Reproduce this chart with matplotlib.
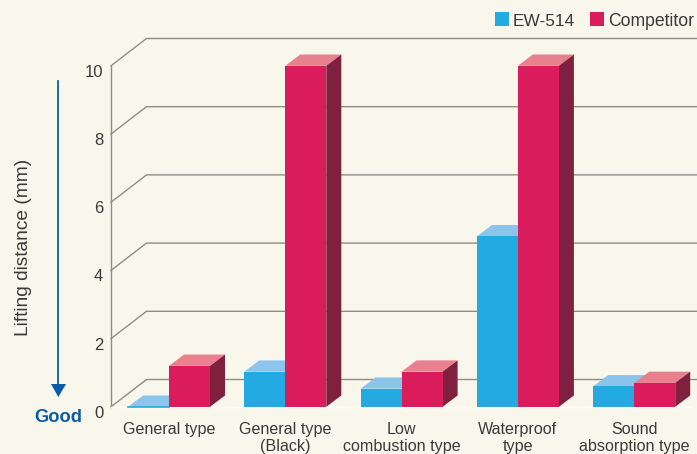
import matplotlib
matplotlib.use("Agg")
import matplotlib.pyplot as plt
from matplotlib.patches import Polygon, Rectangle
from matplotlib.transforms import ScaledTranslation

plt.rcParams["font.family"] = ["Liberation Sans", "DejaVu Sans"]

# ======================================
# DATA
# ======================================
categories = ["General type", "General type\n(Black)", "Low\ncombustion type",
              "Waterproof\ntype", "Sound\nabsorption type"]
ew514 = [0, 1.03, 0.53, 5.0, 0.6]
competitor = [1.2, 10, 1.03, 10, 0.7]
y_ticks = [0, 2, 4, 6, 8, 10]

# ======================================
# COLOURS
# ======================================
BG = "#f9f7ec"
BLUE = "#24aae2"
BLUE_TOP = "#8cc5ec"
RED = "#da1c5c"
RED_TOP = "#e8808e"
RED_SIDE = "#80203f"
GRID = "#8e8e86"
TEXT = "#3a3a38"
DARK_BLUE = "#0a5ca8"

W, H = 697, 454
PX_CAT = 116.3   # pixels between groups
PX_MM = 34.1     # pixels per mm
BAR_W = 41 / PX_CAT

fig = plt.figure(figsize=(W / 100, H / 100), dpi=100, facecolor=BG)
ax = fig.add_axes([111 / W, (H - 406.8) / H, (W - 111) / W, 341 / H], facecolor="none")
ax.set_xlim((111 - 169) / PX_CAT, (W - 169) / PX_CAT)
ax.set_ylim(0, 10)
for s in ax.spines.values():
    s.set_visible(False)

# depth of the walls and of the bars, in data units
wall_dx, wall_dy = 35.5 / PX_CAT, 27.3 / PX_MM
bar_dx, bar_dy = 15 / PX_CAT, 11.3 / PX_MM
x_end = ax.get_xlim()[1]
x_left = ax.get_xlim()[0]


def top_face(x0, x1, v, color, z):
    ax.add_patch(Polygon([(x0, v), (x1, v), (x1 + bar_dx, v + bar_dy), (x0 + bar_dx, v + bar_dy)],
                         closed=True, fc=color, ec="none", zorder=z, clip_on=False))


def side_face(x1, v, color, z):
    ax.add_patch(Polygon([(x1, 0), (x1, v), (x1 + bar_dx, v + bar_dy), (x1 + bar_dx, bar_dy)],
                         closed=True, fc=color, ec="none", zorder=z, clip_on=False))


# ======================================
# WALLS
# ======================================
for t in y_ticks:
    ax.plot([x_left, x_left + wall_dx, x_end], [t, t + wall_dy, t + wall_dy],
            color=GRID, lw=1.0, zorder=1, clip_on=False, solid_joinstyle="miter")
ax.plot([x_left, x_left], [0, 10], color=GRID, lw=1.0, zorder=1, clip_on=False)
ax.plot([x_left, 4 + BAR_W + bar_dx], [0, 0], color="white", lw=1.0, zorder=1.5, clip_on=False)

# ======================================
# BARS
# ======================================
for i in range(len(categories)):
    z = 2 + i
    top_face(i - BAR_W, i, ew514[i], BLUE_TOP, z)
    top_face(i, i + BAR_W, competitor[i], RED_TOP, z + 0.1)
    side_face(i + BAR_W, competitor[i], RED_SIDE, z + 0.1)

x_pos = list(range(len(categories)))
ax.bar([x - BAR_W / 2 for x in x_pos], ew514, width=BAR_W, color=BLUE, zorder=8, clip_on=False)
ax.bar([x + BAR_W / 2 for x in x_pos], competitor, width=BAR_W, color=RED, zorder=9, clip_on=False)
# the zero bar still shows as a thin blue edge
ax.plot([-BAR_W, 0], [0, 0], color=BLUE, lw=1.2, zorder=8, clip_on=False)

# ======================================
# AXES TEXT
# ======================================
ax.set_yticks(y_ticks)
ax.set_yticklabels([str(t) for t in y_ticks], fontsize=12, color=TEXT)
ax.tick_params(axis="y", length=0, pad=5.5)
down = ScaledTranslation(0, -5 / 100, fig.dpi_scale_trans)
for lab in ax.get_yticklabels():
    lab.set_transform(lab.get_transform() + down)

ax.set_xticks(x_pos)
ax.set_xticklabels(categories, fontsize=11.6, color=TEXT, linespacing=1.17)
ax.tick_params(axis="x", length=0, pad=11.2)

fig.text(24 / W, 1 - 247 / H, "Lifting distance (mm)", rotation=90, ha="center", va="center",
         fontsize=13.8, color=TEXT)
fig.text(58 / W, 1 - 417 / H, "Good", ha="center", va="center", fontsize=13.2,
         fontweight="bold", color=DARK_BLUE)

# arrow
fig.add_artist(plt.Line2D([58 / W, 58 / W], [1 - 81 / H, 1 - 385 / H], color=DARK_BLUE, lw=1.3))
fig.add_artist(Polygon([(51 / W, 1 - 384 / H), (66 / W, 1 - 384 / H), (58.3 / W, 1 - 397 / H)],
                       closed=True, fc=DARK_BLUE, ec="none", transform=fig.transFigure))

# ======================================
# LEGEND
# ======================================
fig.add_artist(Rectangle((495 / W, 1 - 26 / H), 14 / W, 14 / H, fc=BLUE, ec="none",
                         transform=fig.transFigure))
fig.add_artist(Rectangle((590 / W, 1 - 26 / H), 14 / W, 14 / H, fc=RED, ec="none",
                         transform=fig.transFigure))
fig.text(513 / W, 1 - 21 / H, "EW-514", ha="left", va="center", fontsize=12.4, color=TEXT)
fig.text(608 / W, 1 - 21 / H, "Competitor", ha="left", va="center", fontsize=12.7, color=TEXT)

fig.savefig("out.png", dpi=100, facecolor=BG)
